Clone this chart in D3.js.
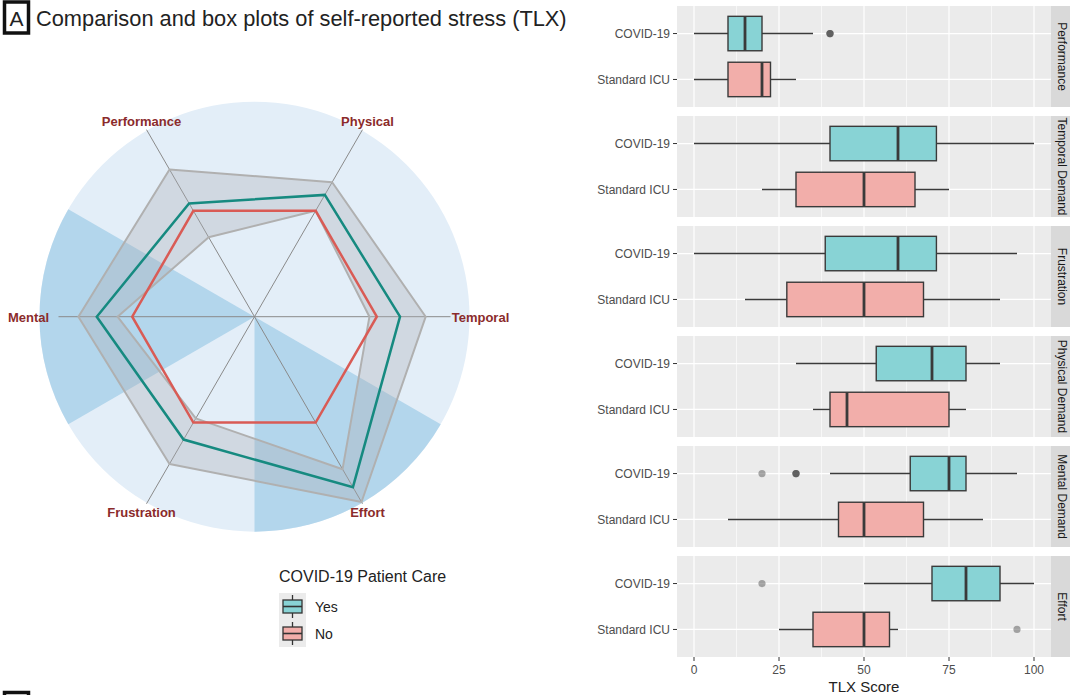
<!DOCTYPE html>
<html>
<head>
<meta charset="utf-8">
<script src="https://cdn.jsdelivr.net/npm/d3@7"></script>
<style>
  body { margin: 0; background: #fff; }
  svg { font-family: "Liberation Sans", Arial, sans-serif; }
</style>
</head>
<body>
<div id="chart"></div>
<script>
// ---- data ----
// radar: COVID-19 relative to standard ICU (standard = 1)
const radarAxes = ["Temporal", "Physical", "Performance", "Mental", "Frustration", "Effort"];
const covidRatio = [1.19, 1.15, 1.07, 1.29, 1.16, 1.61];
const icuRatio = [1, 1, 1, 1, 1, 1];
const ciUpper = [1.40, 1.27, 1.39, 1.44, 1.39, 1.75];
const ciLower = [0.94, 1.00, 0.75, 1.12, 0.96, 1.44];
const shadedSectors = [[150, 210], [270, 330]]; // degrees, counter-clockwise from Temporal

// box plots (TLX score)
const dims = ["Performance", "Temporal Demand", "Frustration", "Physical Demand", "Mental Demand", "Effort"];
const groups = ["COVID-19", "Standard ICU"];
// [whisker low, q1, median, q3, whisker high]
const covidStats = [
  [0, 10, 15, 20, 35],
  [0, 40, 60, 71.3, 100],
  [0, 38.6, 60, 71.3, 95],
  [30, 53.6, 70, 80, 90],
  [40, 63.6, 75, 80, 95],
  [50, 70, 80, 90, 100]
];
const icuStats = [
  [0, 10, 20, 22.5, 30],
  [20, 30, 50, 65, 75],
  [15, 27.3, 50, 67.5, 90],
  [35, 40, 45, 75, 80],
  [10, 42.5, 50, 67.5, 85],
  [25, 35, 50, 57.5, 60]
];
const covidOutliers = [[40, 40, 40], [], [], [], [20, 30, 30, 30], [20]];
const icuOutliers = [[], [], [], [], [], [95]];
const xTicks = [0, 25, 50, 75, 100];
const legendLabels = ["Yes", "No"];

const W = 1070, H = 695;
const svg = d3.select("#chart").append("svg")
  .attr("width", W).attr("height", H);

// ---- title ----
svg.append("rect").attr("x", 4.5).attr("y", 2).attr("width", 24).attr("height", 31)
  .attr("fill", "none").attr("stroke", "#111").attr("stroke-width", 3.5);
svg.append("text").attr("x", 16.5).attr("y", 26).attr("text-anchor", "middle")
  .attr("font-size", 21).attr("fill", "#222").text("A");
svg.append("text").attr("x", 36).attr("y", 26)
  .attr("font-size", 21.8).attr("fill", "#222")
  .text("Comparison and box plots of self-reported stress (TLX)");
// start of next panel box, cut off at the bottom
svg.append("rect").attr("x", 4.5).attr("y", 692.5).attr("width", 24).attr("height", 30)
  .attr("fill", "none").attr("stroke", "#111").attr("stroke-width", 3.5);

// ---- radar ----
const cx = 254.5, cy = 316.7, R = 215;
const rScale = d3.scaleLinear().domain([0, 1.75]).range([0, 214]);
const angle = i => i * Math.PI / 3;
const pt = (i, v) => [cx + rScale(v) * Math.cos(angle(i)), cy - rScale(v) * Math.sin(angle(i))];

const radar = svg.append("g");
radar.append("circle").attr("cx", cx).attr("cy", cy).attr("r", R).attr("fill", "#e3eef8");

const arc = d3.arc().innerRadius(0).outerRadius(R);
radar.selectAll("path.sector").data(shadedSectors).join("path")
  .attr("class", "sector")
  .attr("transform", `translate(${cx},${cy})`)
  .attr("d", d => arc({ startAngle: (90 - d[1]) * Math.PI / 180, endAngle: (90 - d[0]) * Math.PI / 180 }))
  .attr("fill", "#b3d6ec");

// axis spokes
radar.selectAll("line.spoke").data(radarAxes).join("line")
  .attr("class", "spoke")
  .attr("x1", cx).attr("y1", cy)
  .attr("x2", (d, i) => cx + (i % 3 === 0 ? 196 : 216) * Math.cos(angle(i)))
  .attr("y2", (d, i) => cy - (i % 3 === 0 ? 196 : 216) * Math.sin(angle(i)))
  .attr("stroke", "#8a8a8a").attr("stroke-width", 1);

// confidence band (outer minus inner)
const ring = vals => "M" + vals.map((v, i) => pt(i, v).join(",")).join("L") + "Z";
radar.append("path")
  .attr("d", ring(ciUpper) + ring(ciLower))
  .attr("fill-rule", "evenodd")
  .attr("fill", "#a9aeb3").attr("fill-opacity", 0.33)
  .attr("stroke", "#b0b0b0").attr("stroke-width", 2).attr("stroke-linejoin", "round");

radar.append("path").attr("d", ring(icuRatio))
  .attr("fill", "none").attr("stroke", "#d95b55").attr("stroke-width", 2.5);
radar.append("path").attr("d", ring(covidRatio))
  .attr("fill", "none").attr("stroke", "#168a80").attr("stroke-width", 2.5);

radar.selectAll("text.axlab").data(radarAxes).join("text")
  .attr("class", "axlab")
  .attr("x", (d, i) => cx + 226 * Math.cos(angle(i)))
  .attr("y", (d, i) => cy - 226 * Math.sin(angle(i)) + 5)
  .attr("text-anchor", "middle")
  .attr("font-size", 13).attr("font-weight", "bold").attr("fill", "#8b2b2b")
  .text(d => d);

// ---- legend ----
const leg = svg.append("g").attr("transform", "translate(279,0)");
leg.append("text").attr("x", 0).attr("y", 582).attr("font-size", 16).attr("fill", "#222")
  .text("COVID-19 Patient Care");
const legFill = ["#88d3d5", "#f2aeaa"];
legendLabels.forEach((lab, i) => {
  const y0 = 593 + i * 27;
  leg.append("rect").attr("x", 0).attr("y", y0).attr("width", 27).attr("height", 27).attr("fill", "#ebebeb");
  leg.append("line").attr("x1", 13.5).attr("x2", 13.5).attr("y1", y0 + 2).attr("y2", y0 + 25)
    .attr("stroke", "#333").attr("stroke-width", 1.3);
  leg.append("rect").attr("x", 4).attr("y", y0 + 7).attr("width", 19).attr("height", 13)
    .attr("fill", legFill[i]).attr("stroke", "#333").attr("stroke-width", 1.3);
  leg.append("line").attr("x1", 4).attr("x2", 23).attr("y1", y0 + 13.5).attr("y2", y0 + 13.5)
    .attr("stroke", "#333").attr("stroke-width", 1.6);
  leg.append("text").attr("x", 36).attr("y", y0 + 18.5).attr("font-size", 14).attr("fill", "#222").text(lab);
});

// ---- box plots ----
const px0 = 677, px1 = 1051;
const x = d3.scaleLinear().domain([-5, 105]).range([px0, px1]);
const panelY = d3.scaleBand().domain(dims).range([6, 657]).paddingInner(0.0818);
const ph = panelY.bandwidth();
const yIn = d3.scaleLinear().domain([0.4, 2.6]).range([0, ph]);
const halfBox = yIn(0.375) - yIn(0);
const fills = { "COVID-19": "#88d3d5", "Standard ICU": "#f2aeaa" };
const ink = "#3a3a3a";

dims.forEach((dim, di) => {
  const g = svg.append("g").attr("transform", `translate(0,${panelY(dim)})`);
  g.append("rect").attr("x", px0).attr("y", 0).attr("width", px1 - px0).attr("height", ph).attr("fill", "#ebebeb");
  // minor grid
  g.selectAll("line.minor").data([12.5, 37.5, 62.5, 87.5]).join("line")
    .attr("x1", d => x(d)).attr("x2", d => x(d)).attr("y1", 0).attr("y2", ph)
    .attr("stroke", "#fff").attr("stroke-width", 0.6);
  g.selectAll("line.major").data(xTicks).join("line")
    .attr("x1", d => x(d)).attr("x2", d => x(d)).attr("y1", 0).attr("y2", ph)
    .attr("stroke", "#fff").attr("stroke-width", 1.2);
  groups.forEach((grp, gi) => {
    const yc = yIn(gi + 1);
    g.append("line").attr("x1", px0).attr("x2", px1).attr("y1", yc).attr("y2", yc)
      .attr("stroke", "#fff").attr("stroke-width", 1.2);
    const s = gi === 0 ? covidStats[di] : icuStats[di];
    g.append("line").attr("x1", x(s[0])).attr("x2", x(s[1])).attr("y1", yc).attr("y2", yc)
      .attr("stroke", ink).attr("stroke-width", 1.4);
    g.append("line").attr("x1", x(s[3])).attr("x2", x(s[4])).attr("y1", yc).attr("y2", yc)
      .attr("stroke", ink).attr("stroke-width", 1.4);
    g.append("rect").attr("x", x(s[1])).attr("y", yc - halfBox)
      .attr("width", x(s[3]) - x(s[1])).attr("height", 2 * halfBox)
      .attr("fill", fills[grp]).attr("stroke", ink).attr("stroke-width", 1.4);
    g.append("line").attr("x1", x(s[2])).attr("x2", x(s[2])).attr("y1", yc - halfBox).attr("y2", yc + halfBox)
      .attr("stroke", ink).attr("stroke-width", 2.8);
    const outs = gi === 0 ? covidOutliers[di] : icuOutliers[di];
    g.selectAll(null).data(outs).join("circle")
      .attr("cx", d => x(d)).attr("cy", yc).attr("r", 3.6)
      .attr("fill", "#444").attr("fill-opacity", 0.45);
    // y tick + label
    g.append("line").attr("x1", px0 - 4).attr("x2", px0).attr("y1", yc).attr("y2", yc)
      .attr("stroke", "#333").attr("stroke-width", 1);
    g.append("text").attr("x", px0 - 7).attr("y", yc + 4.3).attr("text-anchor", "end")
      .attr("font-size", 12).attr("fill", "#4d4d4d").text(grp);
  });
  // strip
  g.append("rect").attr("x", px1).attr("y", 0).attr("width", 24).attr("height", ph).attr("fill", "#d9d9d9");
  g.append("text")
    .attr("transform", `translate(${px1 + 7},${ph / 2}) rotate(90)`)
    .attr("text-anchor", "middle").attr("font-size", 12).attr("fill", "#1a1a1a").text(dim);
});

// x axis
const axisG = svg.append("g").attr("transform", "translate(0,657)");
axisG.selectAll("line").data(xTicks).join("line")
  .attr("x1", d => x(d)).attr("x2", d => x(d)).attr("y1", 0).attr("y2", 4)
  .attr("stroke", "#333");
axisG.selectAll("text").data(xTicks).join("text")
  .attr("x", d => x(d)).attr("y", 17).attr("text-anchor", "middle")
  .attr("font-size", 12).attr("fill", "#4d4d4d").text(d => d);
svg.append("text").attr("x", (x(0) + x(100)) / 2).attr("y", 692).attr("text-anchor", "middle")
  .attr("font-size", 15).attr("fill", "#222").text("TLX Score");
</script>
</body>
</html>
